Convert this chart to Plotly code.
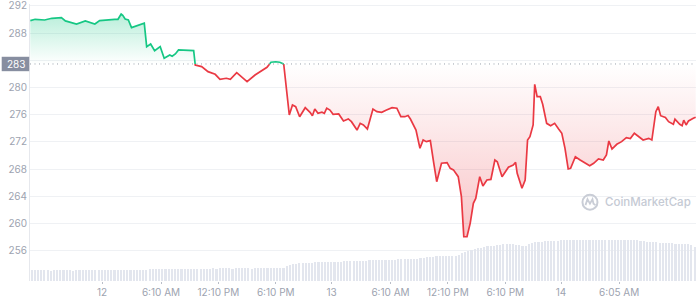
import plotly.graph_objects as go
import pandas as pd
import numpy as np

# ---------------- data ----------------
DATE_PREFIX = "2022-06-"
TIMES = [
    "11 16:30", "11 17:00", "11 18:00", "11 18:45", "11 19:45", "11 20:10", "11 21:20", "11 22:15", "11 23:15", "11 23:45",
    "12 01:20", "12 01:40", "12 02:00", "12 02:10", "12 02:25", "12 02:45", "12 03:05", "12 04:25", "12 04:40", "12 05:05",
    "12 05:30", "12 06:05", "12 06:30", "12 07:05", "12 07:20", "12 07:40", "12 08:00", "12 08:40", "12 09:35", "12 09:45",
    "12 10:25", "12 11:05", "12 11:50", "12 12:20", "12 13:00", "12 13:25", "12 14:05", "12 15:10", "12 16:00", "12 16:30",
    "12 17:15", "12 17:40", "12 18:10", "12 18:35", "12 19:00", "12 19:20", "12 19:35", "12 19:55", "12 20:15", "12 20:40",
    "12 21:15", "12 21:45", "12 22:00", "12 22:15", "12 22:35", "12 23:00", "12 23:15", "12 23:30", "12 23:50",
    "13 00:10", "13 00:45", "13 01:15", "13 01:45", "13 02:05", "13 02:40", "13 03:00", "13 03:20", "13 03:45", "13 04:20",
    "13 04:45", "13 05:15", "13 05:45", "13 06:20", "13 06:50", "13 07:15", "13 07:40", "13 08:00", "13 08:15", "13 08:50",
    "13 09:15", "13 09:35", "13 09:55", "13 10:20", "13 10:40", "13 11:00", "13 11:30", "13 12:05", "13 12:25", "13 12:45",
    "13 13:15", "13 13:35", "13 13:50", "13 14:10", "13 14:30", "13 14:50", "13 15:05", "13 15:30", "13 15:50", "13 16:15",
    "13 16:40", "13 17:05", "13 17:20", "13 17:50", "13 18:30", "13 19:00", "13 19:15", "13 19:25", "13 19:55", "13 20:15",
    "13 20:30", "13 20:45", "13 21:05", "13 21:15", "13 21:30", "13 21:50", "13 22:05", "13 22:30", "13 22:55", "13 23:20",
    "13 23:45",
    "14 00:05", "14 00:25", "14 00:45", "14 01:00", "14 01:30", "14 02:00", "14 02:30", "14 03:00", "14 03:25", "14 03:55",
    "14 04:25", "14 04:45", "14 05:00", "14 05:20", "14 05:50", "14 06:20", "14 06:50", "14 07:15", "14 07:40", "14 08:00",
    "14 08:35", "14 09:10", "14 09:30", "14 09:55", "14 10:10", "14 10:25", "14 10:55", "14 11:15", "14 11:45", "14 11:55",
    "14 12:25", "14 12:40", "14 12:50", "14 13:05", "14 13:20", "14 13:50", "14 14:05",
]
PRICES = [
    289.84, 290.04, 289.94, 290.19, 290.28, 289.80, 289.35, 289.80, 289.35, 289.84,
    290.04, 290.04, 290.82, 290.63, 290.09, 289.94, 288.81, 289.46, 286.02, 286.41,
    285.43, 286.02, 284.31, 284.79, 284.60, 284.94, 285.53, 285.45, 285.43, 283.32,
    283.08, 282.34, 281.95, 281.22, 281.37, 281.22, 282.20, 280.87, 281.85, 282.34,
    282.98, 283.72, 283.80, 283.72, 283.47, 278.90, 275.97, 277.44, 277.19, 275.72,
    277.04, 276.36, 275.87, 276.85, 276.21, 276.37, 276.20, 276.96, 276.70,
    276.07, 276.12, 275.09, 275.39, 274.99, 273.76, 274.74, 274.50, 273.91, 276.85,
    276.46, 276.37, 276.70, 277.04, 276.96, 275.72, 275.72, 275.90, 275.38, 273.76,
    271.07, 272.29, 272.05, 272.20, 269.10, 266.16, 268.87, 268.96, 268.13, 267.90,
    266.90, 263.96, 258.07, 258.07, 260.04, 262.98, 263.70, 266.90, 265.53, 266.41,
    266.50, 269.35, 269.10, 266.90, 268.28, 268.62, 269.00, 267.40, 265.19, 266.41,
    272.29, 272.78, 274.50, 280.48, 278.66, 278.66, 277.54, 274.74, 274.40, 274.74,
    273.91,
    273.28, 271.07, 268.03, 268.13, 269.84, 269.35, 268.87, 268.51, 268.87, 269.50,
    269.35, 270.09, 272.15, 270.97, 271.66, 272.05, 272.63, 272.50, 273.28, 272.94,
    272.29, 272.54, 272.29, 276.46, 277.20, 275.87, 275.60, 274.99, 274.60, 275.35,
    274.60, 274.40, 275.20, 274.50, 275.10, 275.49, 275.64,
]
BASE_PRICE = 283.47
BASE_LABEL = "283"

VOLUME_START = "2022-06-11 16:40"
VOLUME_STEP = "20min"
VOLUMES = [
    9.6, 9.5, 9.6, 9.4, 9.5, 9.5, 9.3, 9.4, 9.5, 9.4,
    9.4, 9.5, 9.4, 9.3, 9.4, 9.5, 9.4, 9.4, 9.5, 9.4,
    9.5, 9.4, 9.4, 9.5, 9.6, 9.5, 9.5, 9.6, 9.7, 9.8,
    10.0, 9.9, 9.9, 10.0, 10.1, 10.0, 10.1,
    10.3, 10.4, 10.4, 10.3, 10.5, 10.4, 10.5, 10.6, 10.5, 10.6,
    10.7, 10.6, 10.8, 10.7, 10.8, 11.0, 10.9, 11.0, 11.1, 11.0,
    11.2, 11.1, 11.2, 11.3, 11.2,
    11.2, 11.1, 11.2, 11.2, 11.3, 11.2, 11.2, 11.1, 11.2, 11.3,
    11.2, 11.2, 11.3, 11.2, 11.3, 11.4, 11.4, 11.5,
    13.0, 14.6, 15.2, 15.4, 15.6, 15.8, 16.0,
    16.2, 16.4, 16.5, 16.6, 16.8, 16.9, 16.9, 17.0, 17.1, 17.1,
    17.3, 17.4, 17.6, 17.7, 17.8, 17.8, 17.9, 18.0,
    18.2, 18.4, 18.5, 18.6, 18.7, 18.8, 18.9, 18.9, 19.0, 19.1, 19.2, 19.2, 19.3, 19.4, 19.5, 19.6, 19.8,
    20.2, 20.6, 21.0, 21.3,
    21.6, 21.9, 22.1, 22.3, 22.4,
    22.2, 22.1, 22.6,
    23.5,
    24.6, 25.8, 26.9, 27.9,
    28.6, 29.2, 29.7,
    30.2, 30.7, 31.0, 31.4, 31.8,
    32.3, 32.7, 33.0,
    32.8, 32.5, 32.3,
    31.6, 31.0, 31.5,
    32.6, 33.6, 34.4,
    34.8, 35.1, 35.3, 35.5, 35.6,
    35.8, 36.0, 36.1, 36.3, 36.4, 36.6, 36.7, 36.8,
    36.8, 36.7, 36.6, 36.5, 36.4, 36.3, 36.2, 36.2, 36.2,
    36.3, 36.4, 36.5, 36.6, 36.7, 36.8, 36.8, 36.8, 36.7, 36.5,
    36.0, 35.5, 35.0,
    34.8, 34.6, 34.4, 34.2, 34.0, 33.8, 33.6, 33.4,
    33.3, 33.3, 33.2, 33.3, 33.2,
    32.0, 30.2,
]

X_TICK_VALS = ["2022-06-12 00:00", "2022-06-12 06:10", "2022-06-12 12:10", "2022-06-12 18:10",
               "2022-06-13 00:00", "2022-06-13 06:10", "2022-06-13 12:10", "2022-06-13 18:10",
               "2022-06-14 00:00", "2022-06-14 06:05"]
X_TICK_TEXT = ["12", "6:10 AM", "12:10 PM", "6:10 PM", "13", "6:10 AM", "12:10 PM", "6:10 PM", "14", "6:05 AM"]
Y_TICK_VALS = [256, 260, 264, 268, 272, 276, 280, 284, 288, 292]
Y_TICK_TEXT = ["256", "260", "264", "268", "272", "276", "280", "", "288", "292"]

# ---------------- styling ----------------
GREEN = "#16c784"
RED = "#ea3943"
GRID = "#eff1f4"
LABEL = "#9da3b0"
FONT = "Inter, Roboto, sans-serif"

# ---------------- prep ----------------
t = pd.to_datetime([DATE_PREFIX + s for s in TIMES])
p = np.array(PRICES, dtype=float)

# insert baseline crossings so that colours switch exactly at the baseline
tt, pp = [t[0]], [p[0]]
for i in range(1, len(p)):
    a, b = p[i - 1] - BASE_PRICE, p[i] - BASE_PRICE
    if a * b < 0:
        frac = a / (a - b)
        tt.append(t[i - 1] + (t[i] - t[i - 1]) * frac)
        pp.append(BASE_PRICE)
    tt.append(t[i])
    pp.append(p[i])
pp = np.array(pp)
green_line = [v if v >= BASE_PRICE - 1e-9 else None for v in pp]
red_line = [v if v <= BASE_PRICE + 1e-9 else None for v in pp]
green_fill = np.maximum(pp, BASE_PRICE)
red_fill = np.minimum(pp, BASE_PRICE)
base_arr = np.full(len(pp), BASE_PRICE)

vt = pd.date_range(VOLUME_START, periods=len(VOLUMES), freq=VOLUME_STEP)
bar_width_ms = pd.Timedelta(VOLUME_STEP).total_seconds() * 1000 * 0.5

fig = go.Figure()

fig.add_trace(go.Bar(x=vt, y=VOLUMES, yaxis="y2", marker=dict(color="#e3e6ee", line=dict(width=0)),
                     width=bar_width_ms, hoverinfo="skip"))

fig.add_trace(go.Scatter(x=tt, y=base_arr, mode="lines", line=dict(width=0), hoverinfo="skip"))
fig.add_trace(go.Scatter(x=tt, y=green_fill, mode="lines", line=dict(width=0), fill="tonexty",
                         fillgradient=dict(type="vertical", start=BASE_PRICE, stop=float(p.max()),
                                           colorscale=[[0, "rgba(22,199,132,0.0)"], [1, "rgba(22,199,132,0.30)"]]),
                         hoverinfo="skip"))
fig.add_trace(go.Scatter(x=tt, y=base_arr, mode="lines", line=dict(width=0), hoverinfo="skip"))
fig.add_trace(go.Scatter(x=tt, y=red_fill, mode="lines", line=dict(width=0), fill="tonexty",
                         fillgradient=dict(type="vertical", start=float(p.min()), stop=BASE_PRICE,
                                           colorscale=[[0, "rgba(234,57,67,0.30)"], [1, "rgba(234,57,67,0.0)"]]),
                         hoverinfo="skip"))

fig.add_trace(go.Scatter(x=tt, y=red_line, mode="lines", line=dict(color=RED, width=1.7), connectgaps=False))
fig.add_trace(go.Scatter(x=tt, y=green_line, mode="lines", line=dict(color=GREEN, width=1.7), connectgaps=False))

# baseline dotted line
fig.add_shape(type="line", xref="paper", x0=0, x1=1, yref="y", y0=BASE_PRICE, y1=BASE_PRICE,
              line=dict(color="#9aa0ab", width=1, dash="1px,3.5px"), layer="above")
# baseline label box
fig.add_shape(type="rect", xref="paper", x0=-0.0425, x1=-0.0012, yref="y",
              y0=BASE_PRICE - 1.06, y1=BASE_PRICE + 1.06, fillcolor="#878ea0", line=dict(width=0))
fig.add_annotation(xref="paper", x=-0.0215, yref="y", y=BASE_PRICE, text=BASE_LABEL, showarrow=False,
                   font=dict(color="white", size=10, family=FONT), xanchor="center", yanchor="middle")

# watermark
fig.add_shape(type="circle", xref="paper", yref="paper", xsizemode="pixel", ysizemode="pixel",
              xanchor=0.8408, yanchor=0.2847, x0=-7.5, x1=7.5, y0=-7.5, y1=7.5,
              line=dict(color="#c9cdd6", width=2))
fig.add_shape(type="path", xref="paper", yref="paper", xsizemode="pixel", ysizemode="pixel",
              xanchor=0.8408, yanchor=0.2847,
              path="M -4.5,-3 L -2.5,3 L 0,-1.5 L 2.5,3 L 3.5,-1.5 L 5.5,-3",
              line=dict(color="#c9cdd6", width=1.8))
fig.add_annotation(xref="paper", yref="paper", x=0.861, y=0.2847, text="CoinMarketCap", showarrow=False,
                   xanchor="left", yanchor="middle",
                   font=dict(color="#c5cad4", size=11.5, family=FONT, weight=500))

fig.update_layout(
    width=696, height=300,
    margin=dict(l=30, r=0, t=4, b=19),
    plot_bgcolor="white", paper_bgcolor="white",
    showlegend=False, hovermode=False, bargap=0,
    font=dict(family=FONT, color=LABEL, size=10),
    xaxis=dict(type="date", range=["2022-06-11 16:28", "2022-06-14 14:07"],
               tickvals=X_TICK_VALS, ticktext=X_TICK_TEXT, showgrid=False, zeroline=False,
               ticks="outside", ticklen=2, tickcolor="#b9bec8", tickwidth=1,
               tickfont=dict(size=10, color=LABEL), showline=False),
    yaxis=dict(range=[251.56, 292.29], tickvals=Y_TICK_VALS, ticktext=Y_TICK_TEXT,
               showgrid=True, gridcolor=GRID, gridwidth=1, zeroline=False,
               showline=True, linecolor="#e6e8ed", linewidth=1, ticks="",
               ticklabeloverflow="allow",
               tickfont=dict(size=10, color=LABEL)),
    yaxis2=dict(range=[0, 250 * 277 / 281], overlaying="y", visible=False, showgrid=False),
)

fig.write_html("out.html")
